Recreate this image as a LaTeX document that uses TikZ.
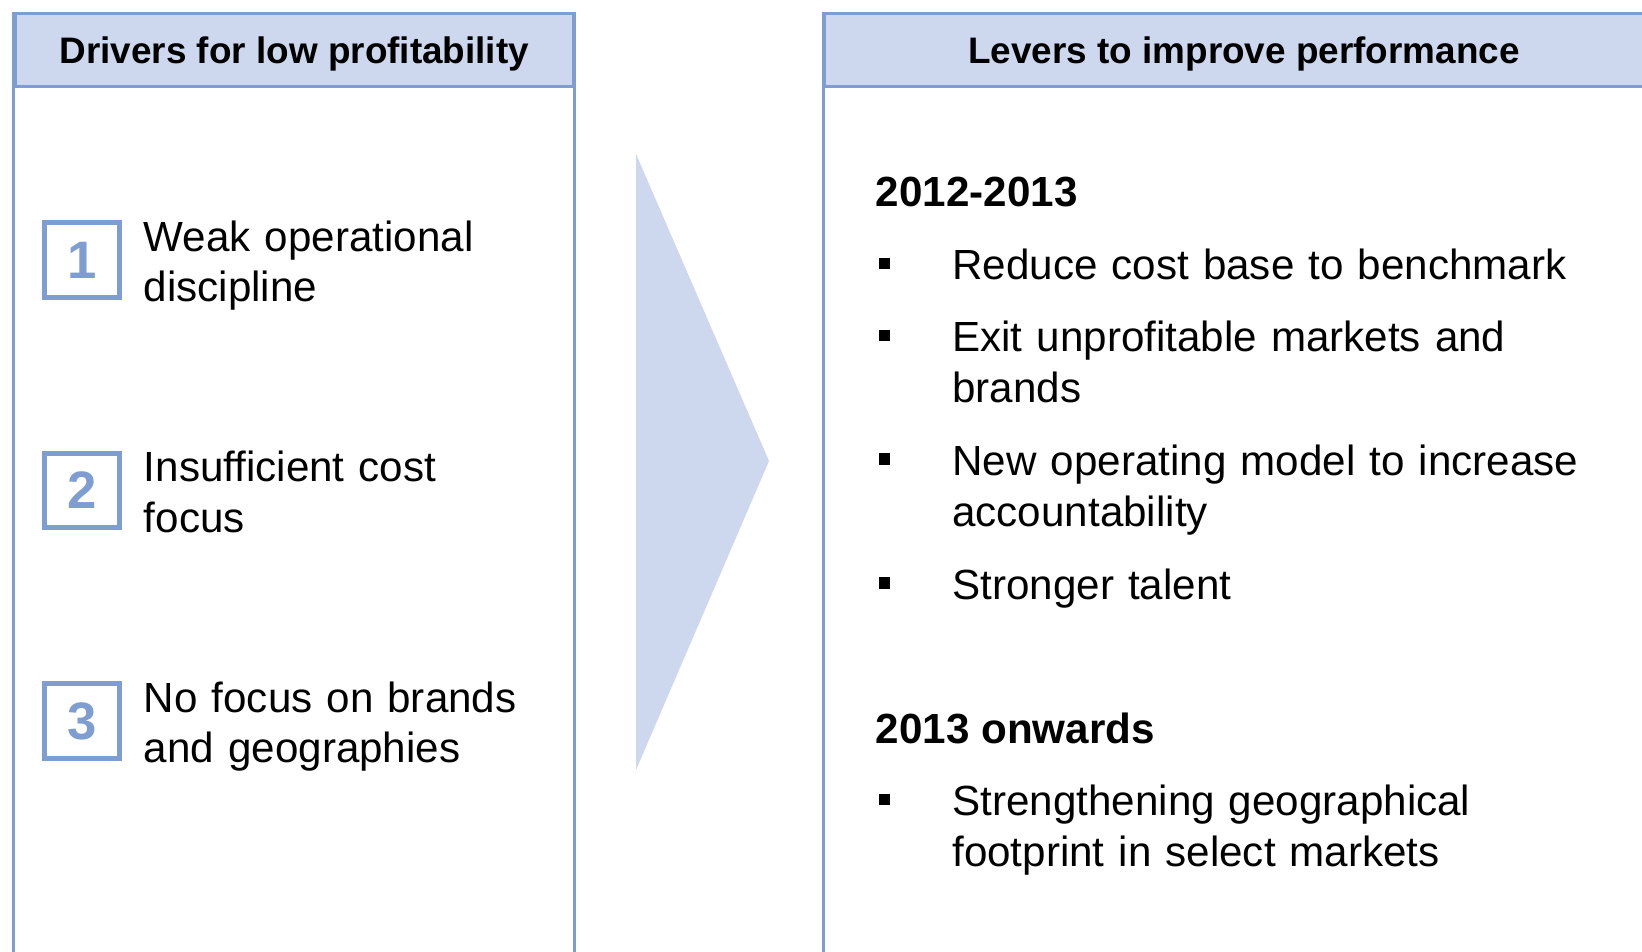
\documentclass[tikz,border=0pt]{standalone}
\usepackage{fontspec}
\setmainfont{Liberation Sans}
\usetikzlibrary{positioning, calc}
\definecolor{framecolor}{RGB}{126, 158, 210}
\definecolor{headcolor}{RGB}{205, 216, 238}

\begin{document}
\begin{tikzpicture}[
    x=0.02cm, y=-0.02cm,
    panel/.style={draw=framecolor, line width=0.06cm},
    header/.style={panel, fill=headcolor, anchor=north west, minimum height=1.47cm, inner sep=0pt, text depth=0pt, font=\fontsize{21}{25}\selectfont\bfseries},
    numbox/.style={draw=framecolor, line width=0.1cm, minimum size=1.49cm, inner sep=0pt, text=framecolor, font=\fontsize{30}{36}\selectfont\bfseries},
    item/.style={anchor=base west, inner sep=0pt, text width=9cm, align=left, font=\fontsize{24}{28.8}\selectfont},
    lever/.style={item, text width=13.5cm},
    period/.style={anchor=base west, inner sep=0pt, font=\fontsize{24}{28.8}\selectfont\bfseries},
    bullet/.style={fill=black, minimum size=0.23cm, inner sep=0pt}
]

\useasboundingbox (0,0) rectangle (1642,951);
\clip (0,0) rectangle (1642,951);

% Headers
\node[header, minimum width=11.17cm] (lhead) at (13.6,11.5) {Drivers for low profitability};
\node[header, minimum width=16.78cm] (rhead) at (823,11.5) {Levers to improve performance};

% Panel frames (open at the bottom)
\draw[panel] (lhead.north west) -- ++(0,1000);
\draw[panel] (lhead.north east) -- ++(0,1000);
\draw[panel] (rhead.north west) -- ++(0,1000);

% Big chevron between the panels
\fill[headcolor] (636,154) -- (769,461) -- (636,770) -- cycle;

% Drivers
\node[numbox] (n1) at (82,260) {1};
\node[numbox] (n2) at (82,490.5) {2};
\node[numbox] (n3) at (82,721) {3};

\node[item] (d1) at (143.5,251) {Weak operational\\discipline};
\node[item] (d2) at (143.5,481.7) {Insufficient cost\\focus};
\node[item] (d3) at (143.5,712) {No focus on brands\\and geographies};

% Levers
\node[period] (p1) at (875.5,206) {2012-2013};
\node[period] (p2) at (875.5,743.5) {2013 onwards};

\foreach \y/\txt [count=\i] in {
    279.6/{Reduce cost base to benchmark},
    351.9/{Exit unprofitable markets and\\brands},
    475.4/{New operating model to increase\\accountability},
    599/{Stronger talent},
    815.8/{Strengthening geographical\\footprint in select markets}} {
    \node[lever] (l\i) at (952,\y) {\txt};
    \node[bullet] (b\i) at ($(l\i.base west)+(-67.7,-16.2)$) {};
}

\end{tikzpicture}
\end{document}
